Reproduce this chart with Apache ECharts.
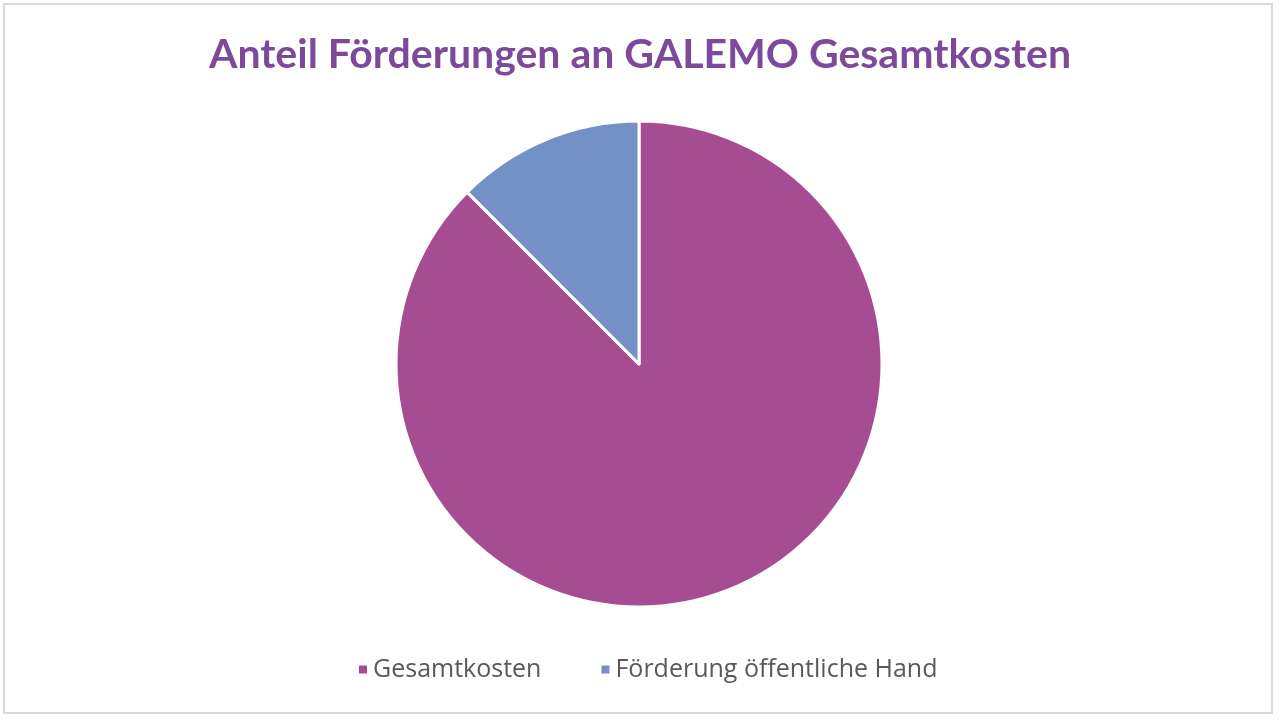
<!DOCTYPE html>
<html><head><meta charset="utf-8">
<script src="https://cdn.jsdelivr.net/npm/echarts@6/dist/echarts.min.js"></script>
<style>
html,body{margin:0;padding:0;background:#fff;}
#frame{position:absolute;left:3px;top:3px;width:1270px;height:711px;border:2px solid #d9d9d9;box-sizing:border-box;}
#c{position:absolute;left:0;top:0;width:1280px;height:723px;}
</style></head>
<body>
<div id="frame"></div>
<div id="c"></div>
<script>
const titleText = "Anteil Förderungen an GALEMO Gesamtkosten";
const categories = ["Gesamtkosten", "Förderung öffentliche Hand"];
const values = [87.5, 12.5];
const colors = ["#A64C92", "#7391C5"];

const chart = echarts.init(document.getElementById('c'), null, {renderer:'canvas'});
chart.setOption({
  backgroundColor: 'transparent',
  animation: false,
  title: {
    text: titleText,
    left: 'center',
    top: 29,
    textStyle: {fontFamily: 'Lato', fontWeight: 'bold', fontSize: 41, color: '#7D4A9B'}
  },
  legend: {
    data: categories,
    bottom: 36,
    left: 352,
    icon: 'rect',
    itemWidth: 10,
    itemHeight: 10,
    itemGap: 58,
    textStyle: {fontFamily: 'Open Sans', fontSize: 25, color: '#595959'}
  },
  series: [{
    type: 'pie',
    center: [639, 364],
    radius: 243,
    startAngle: 90,
    clockwise: true,
    label: {show: false},
    labelLine: {show: false},
    itemStyle: {borderColor: '#fff', borderWidth: 3},
    data: categories.map((n,i)=>({name:n, value:values[i], itemStyle:{color:colors[i]}}))
  }]
});
</script>
</body></html>
